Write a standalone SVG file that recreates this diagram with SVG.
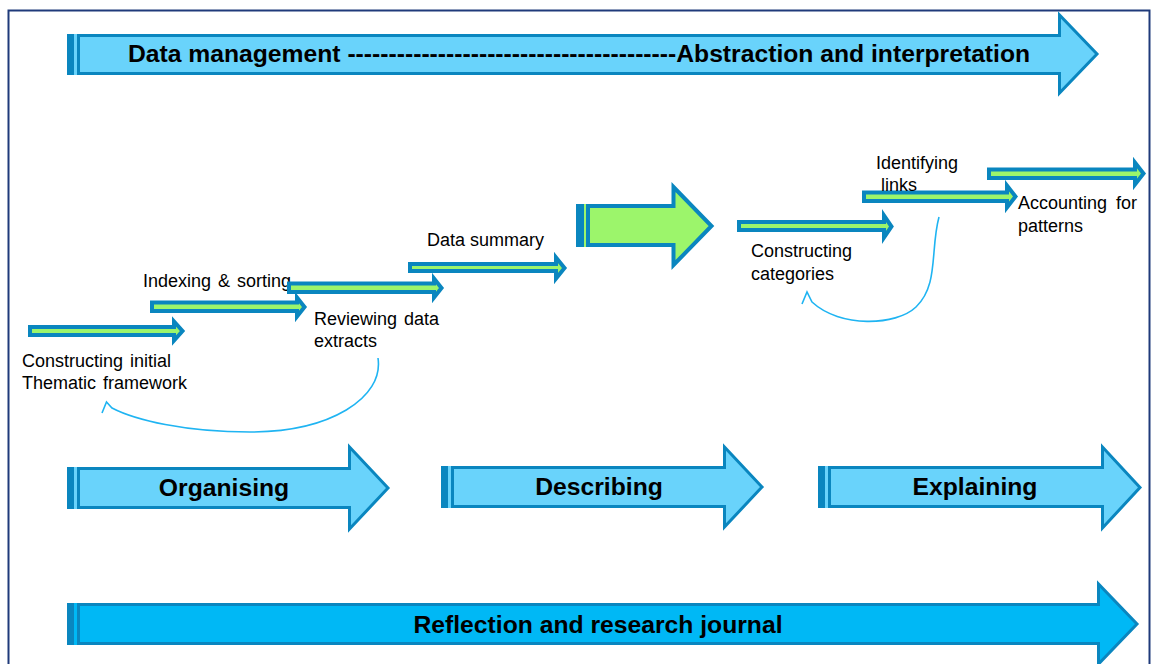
<svg xmlns="http://www.w3.org/2000/svg" width="1154" height="664" viewBox="0 0 1154 664">
<style>
.frame{fill:#fff;stroke:#1f3a7a;stroke-width:2}
.big{fill:#69d3fb;stroke:#0a86bf;stroke-width:3;stroke-linejoin:miter}
.bigdeep{fill:#00b8f5;stroke:#0a86bf;stroke-width:3}
.stripe{fill:#0a86bf}
.gapl{fill:#69d3fb}
.gapd{fill:#00b8f5}
.gapg{fill:#9cf56b}
.green{fill:#9cf56b;stroke:#0a86bf;stroke-width:4;stroke-linejoin:miter}
.bigg{fill:#9cf56b;stroke:#0a86bf;stroke-width:4}
.ttl{font-family:"Liberation Sans",Arial,sans-serif;font-weight:bold;font-size:24.7px;fill:#000}
.lbl{font-family:"Liberation Sans",Arial,sans-serif;font-size:18px;fill:#000;word-spacing:2px}
.loop{fill:none;stroke:#1fb4f2;stroke-width:1.6}
</style>
<rect class="frame" x="8.5" y="10.5" width="1141" height="665"/>

<g id="top-arrow">
<rect class="gapl" x="67" y="34" width="12" height="41"/>
<rect class="stripe" x="67" y="34" width="7" height="41"/>
<polygon class="big" points="78.5,35.5 1059.5,35.5 1059.5,15 1097,54 1059.5,93 1059.5,73.5 78.5,73.5"/>
<text class="ttl" x="579" y="62" text-anchor="middle">Data management ----------------------------------------Abstraction and interpretation</text>
</g>

<g id="organising">
<rect class="gapl" x="67" y="467" width="12" height="42"/>
<rect class="stripe" x="67" y="467" width="7" height="42"/>
<polygon class="big" points="78.5,468.5 349.5,468.5 349.5,447 388,488 349.5,529 349.5,507.5 78.5,507.5"/>
<text class="ttl" x="224" y="496" text-anchor="middle">Organising</text>
</g>
<g id="describing">
<rect class="gapl" x="441" y="466" width="12" height="42"/>
<rect class="stripe" x="441" y="466" width="7" height="42"/>
<polygon class="big" points="452.5,467.5 724.5,467.5 724.5,447 762,487 724.5,527 724.5,506.5 452.5,506.5"/>
<text class="ttl" x="599" y="495" text-anchor="middle">Describing</text>
</g>
<g id="explaining">
<rect class="gapl" x="818" y="466" width="12" height="42"/>
<rect class="stripe" x="818" y="466" width="7" height="42"/>
<polygon class="big" points="829.5,467.5 1102.5,467.5 1102.5,447 1140,487.5 1102.5,528 1102.5,506.5 829.5,506.5"/>
<text class="ttl" x="975" y="495" text-anchor="middle">Explaining</text>
</g>
<g id="reflection">
<rect class="gapd" x="67" y="603" width="12" height="42"/>
<rect class="stripe" x="67" y="603" width="7" height="42"/>
<polygon class="bigdeep" points="78.5,604.5 1098.5,604.5 1098.5,584 1137,624 1098.5,664 1098.5,643.5 78.5,643.5"/>
<text class="ttl" x="598" y="633" text-anchor="middle">Reflection and research journal</text>
</g>

<g id="big-green">
<rect class="gapg" x="576" y="204" width="12" height="43"/>
<rect class="stripe" x="576" y="204" width="8" height="43"/>
<polygon class="bigg" points="588,206 673.5,206 673.5,187 711.5,226 673.5,265 673.5,245 588,245"/>
</g>

<g id="step1">
<polygon class="green" points="30,327 174,327 174,321.5 182.5,331 174,340.5 174,335 30,335"/>
<text class="lbl" x="22" y="367">Constructing initial</text>
<text class="lbl" x="22" y="389">Thematic framework</text>
</g>
<g id="step2">
<polygon class="green" points="152,302.5 297,302.5 297,297.5 304.5,307 297,316.5 297,311 152,311"/>
<text class="lbl" x="143" y="287">Indexing &amp; sorting</text>
</g>
<g id="step3">
<polygon class="green" points="289,283.5 434,283.5 434,278.5 441.5,288 434,297.5 434,292 289,292"/>
<text class="lbl" x="314" y="325">Reviewing data</text>
<text class="lbl" x="314" y="347">extracts</text>
</g>
<g id="step4">
<polygon class="green" points="410,264 556,264 556,257.5 564.5,268 556,278.5 556,271 410,271"/>
<text class="lbl" x="427" y="246" style="word-spacing:0">Data summary</text>
</g>
<g id="step5">
<polygon class="green" points="739,222 884,222 884,215.5 891.5,226.5 884,237.5 884,230 739,230"/>
<text class="lbl" x="751" y="257">Constructing</text>
<text class="lbl" x="751" y="280">categories</text>
</g>
<g id="step6">
<polygon class="green" points="864,192.5 1007,192.5 1007,185.5 1015.5,196.5 1007,207.5 1007,201 864,201"/>
<text class="lbl" x="876" y="169">Identifying</text>
<text class="lbl" x="881" y="191">links</text>
</g>
<g id="step7">
<polygon class="green" points="989,169.5 1135,169.5 1135,162.5 1143.5,173.5 1135,184.5 1135,178 989,178"/>
<text class="lbl" x="1018" y="209" style="word-spacing:4px">Accounting for</text>
<text class="lbl" x="1018" y="232">patterns</text>
</g>

<g id="connectors">
<path class="loop" d="M378 358 C384 398 330 432 250 432 C185 432 135 420 112 408 L106.5 402 L102 413"/>
<path class="loop" d="M939 217 C930 250 939 285 916 307 C896 326 840 328 812 302 L807 292 L802 304"/>
</g>
</svg>
